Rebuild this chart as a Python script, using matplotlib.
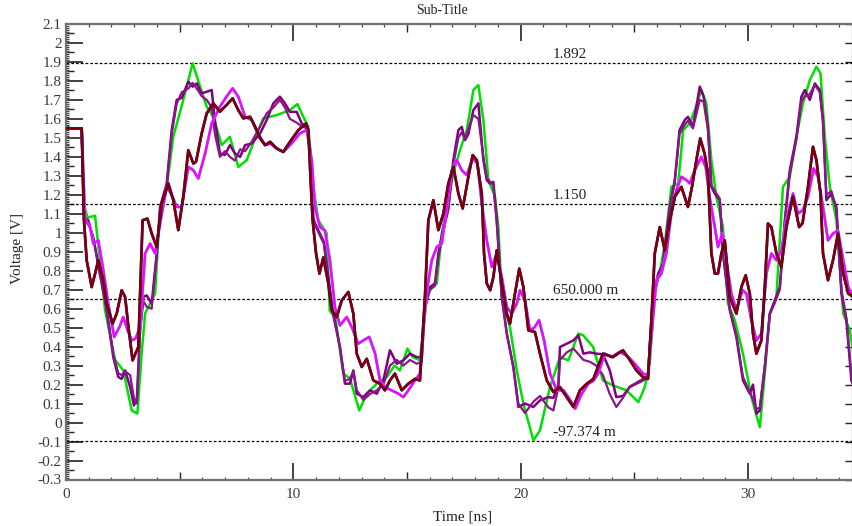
import matplotlib
matplotlib.use("Agg")
import matplotlib.pyplot as plt
from matplotlib.ticker import MultipleLocator

plt.rcParams['font.family'] = ['Liberation Serif', 'DejaVu Serif']

# ---- waveform traces (time in ns, voltage in V) ----
green_t = [0, 0.69, 0.8, 0.95, 1.28, 1.72, 2.16, 2.52, 2.89, 3.14, 3.33, 3.48, 3.92, 4.14,
           4.43, 4.72, 5.16, 5.57, 5.9, 6.19, 6.48, 6.85, 7.21, 7.58, 7.95, 8.46, 8.68, 9.27,
           9.85, 10.18, 10.44, 10.66, 10.88, 11.1, 11.47, 11.6, 11.85, 12.2, 12.49, 12.9,
           13.23, 13.74, 14.11, 14.45, 14.69, 15.02, 15.25, 15.57, 15.87, 16.09, 16.31,
           16.53, 16.82, 17.04, 17.33, 17.63, 17.92, 18.14, 18.36, 18.58, 18.87, 19.02,
           19.17, 19.53, 19.83, 20.12, 20.56, 20.85, 21.29, 21.73, 22.1, 22.54, 22.75,
           23.19, 23.62, 24.06, 24.65, 25.18, 25.46, 25.68, 25.9, 26.12, 26.35, 26.63,
           26.93, 27.15, 27.44, 27.66, 27.95, 28.17, 28.39, 28.61, 28.9, 29.12, 29.42,
           29.78, 30.15, 30.52, 30.74, 30.96, 31.25, 31.54, 31.84, 32.13, 32.42, 32.72,
           33.01, 33.19, 33.38, 33.6, 33.89, 34.19, 34.48, 34.62]
green_v = [1.55, 1.55, 1.14, 1.08, 1.09, 0.59, 0.33, 0.275, 0.064, 0.047, 0.365, 0.575,
           0.68, 1.136, 1.24, 1.506, 1.70, 1.893, 1.77, 1.664, 1.611, 1.462, 1.506, 1.347,
           1.383, 1.541, 1.603, 1.62, 1.646, 1.678, 1.611, 1.558, 1.242, 1.066, 0.996, 0.59,
           0.55, 0.258, 0.233, 0.064, 0.152, 0.213, 0.24, 0.30, 0.275, 0.39, 0.345, 0.328,
           0.662, 0.714, 0.733, 0.996, 1.19, 1.313, 1.435, 1.541, 1.752, 1.778, 1.594,
           1.277, 1.19, 1.03, 0.662, 0.503, 0.275, 0.10, -0.094, -0.041, 0.187, 0.345,
           0.328, 0.469, 0.46, 0.398, 0.222, 0.196, 0.17, 0.108, 0.187, 0.31, 0.714, 0.785,
           0.95, 1.242, 1.26, 1.541, 1.576, 1.646, 1.752, 1.682, 1.383, 1.19, 1.03, 0.627,
           0.539, 0.363, 0.134, -0.024, 0.258, 0.574, 0.662, 1.242, 1.295, 1.506, 1.682,
           1.805, 1.875, 1.84, 1.506, 1.242, 1.066, 0.574, 0.486, 0.38]

purple_a_t = [0, 0.69, 0.8, 0.98, 1.2, 1.45, 1.79, 2.08, 2.3, 2.45, 2.6, 2.82, 2.99, 3.12,
              3.26, 3.4, 3.55, 3.77, 3.99, 4.14, 4.43, 4.65, 4.87, 5.09, 5.38, 5.57, 5.75,
              5.97, 6.19, 6.41, 6.55, 6.77, 6.99, 7.21, 7.43, 7.66, 7.88, 8.17, 8.54, 8.83,
              9.12, 9.41, 9.63, 9.85, 10.15, 10.37, 10.6, 10.76, 10.88, 11.03, 11.35, 11.5,
              11.76, 12.05, 12.27, 12.49, 12.64, 12.79, 13.08, 13.37, 13.67, 13.96, 14.25,
              14.55, 14.84, 15.13, 15.43, 15.65, 15.79, 16.01, 16.23, 16.38, 16.6, 16.82,
              17.04, 17.26, 17.41, 17.55, 17.7, 17.92, 18.14, 18.36, 18.51, 18.65, 18.8,
              18.95, 19.17, 19.39, 19.68, 19.9, 20.19, 20.56, 20.85, 21.22, 21.44, 21.66,
              21.73, 22.03, 22.32, 22.54, 22.76, 23.05, 23.33, 23.62, 23.92, 24.21, 24.5,
              24.8, 25.09, 25.38, 25.6, 25.82, 26.05, 26.26, 26.56, 26.78, 26.99, 27.22,
              27.36, 27.58, 27.88, 28.05, 28.24, 28.39, 28.54, 28.76, 28.9, 29.2, 29.49,
              29.78, 30.08, 30.22, 30.37, 30.52, 30.74, 30.96, 31.18, 31.4, 31.62, 31.84,
              32.13, 32.35, 32.5, 32.72, 32.94, 33.16, 33.3, 33.45, 33.67, 33.89, 34.11,
              34.33, 34.55, 34.62]
purple_a_v = [1.55, 1.55, 1.08, 1.066, 0.97, 0.82, 0.592, 0.345, 0.24, 0.23, 0.275, 0.187,
              0.09, 0.13, 0.503, 0.662, 0.67, 0.627, 0.891, 1.136, 1.26, 1.541, 1.70, 1.71,
              1.796, 1.77, 1.787, 1.735, 1.743, 1.752, 1.594, 1.418, 1.41, 1.462, 1.418,
              1.40, 1.462, 1.47, 1.524, 1.594, 1.682, 1.717, 1.682, 1.637, 1.637, 1.576,
              1.56, 1.418, 1.066, 1.03, 0.95, 0.80, 0.574, 0.398, 0.205, 0.205, 0.275, 0.152,
              0.134, 0.17, 0.152, 0.222, 0.381, 0.31, 0.328, 0.363, 0.345, 0.345, 0.627,
              0.714, 0.733, 0.891, 1.03, 1.136, 1.383, 1.541, 1.558, 1.488, 1.52, 1.646,
              1.682, 1.383, 1.277, 1.26, 1.268, 1.066, 0.662, 0.469, 0.293, 0.082, 0.10,
              0.082, 0.117, 0.134, 0.13, 0.20, 0.398, 0.416, 0.433, 0.46, 0.363, 0.37, 0.363,
              0.36, 0.275, 0.134, 0.14, 0.187, 0.205, 0.222, 0.24, 0.662, 0.785, 0.838,
              1.136, 1.277, 1.541, 1.594, 1.611, 1.558, 1.77, 1.717, 1.558, 1.242, 1.206,
              1.172, 0.891, 0.592, 0.45, 0.222, 0.152, 0.20, 0.047, 0.064, 0.293, 0.574,
              0.644, 0.714, 1.066, 1.33, 1.506, 1.717, 1.752, 1.70, 1.787, 1.752, 1.594,
              1.172, 1.206, 1.136, 0.68, 0.539, 0.222, 0.20]

purple_b_t = [0, 0.69, 0.8, 0.98, 1.2, 1.45, 1.79, 2.08, 2.3, 2.45, 2.6, 2.82, 2.99, 3.12,
              3.26, 3.4, 3.55, 3.77, 3.99, 4.14, 4.43, 4.65, 4.87, 5.09, 5.38, 5.57, 5.75,
              5.97, 6.19, 6.41, 6.55, 6.77, 6.99, 7.21, 7.43, 7.66, 7.88, 8.17, 8.54, 8.83,
              9.12, 9.41, 9.63, 9.85, 10.15, 10.37, 10.6, 10.76, 10.88, 11.03, 11.35, 11.5,
              11.76, 12.05, 12.27, 12.49, 12.64, 12.79, 13.08, 13.37, 13.67, 13.96, 14.25,
              14.55, 14.84, 15.13, 15.43, 15.65, 15.79, 16.01, 16.23, 16.38, 16.6, 16.82,
              17.04, 17.26, 17.41, 17.55, 17.7, 17.92, 18.14, 18.36, 18.51, 18.65, 18.8,
              18.95, 19.17, 19.39, 19.68, 19.9, 20.19, 20.56, 20.85, 21.22, 21.44, 21.66,
              21.73, 22.03, 22.32, 22.54, 22.76, 23.05, 23.33, 23.62, 23.92, 24.21, 24.5,
              24.8, 25.09, 25.38, 25.6, 25.82, 26.05, 26.26, 26.56, 26.78, 26.99, 27.22,
              27.36, 27.58, 27.88, 28.05, 28.24, 28.39, 28.54, 28.76, 28.9, 29.2, 29.49,
              29.78, 30.08, 30.22, 30.37, 30.52, 30.74, 30.96, 31.18, 31.4, 31.62, 31.84,
              32.13, 32.35, 32.5, 32.72, 32.94, 33.16, 33.3, 33.45, 33.67, 33.89, 34.11,
              34.33, 34.55, 34.62]
purple_b_v = [1.55, 1.55, 1.09, 1.05, 0.98, 0.80, 0.60, 0.36, 0.26, 0.25, 0.27, 0.25, 0.13,
              0.10, 0.48, 0.64, 0.61, 0.60, 0.88, 1.12, 1.25, 1.52, 1.68, 1.74, 1.76, 1.79,
              1.76, 1.72, 1.70, 1.66, 1.52, 1.40, 1.43, 1.40, 1.38, 1.44, 1.43, 1.48, 1.56,
              1.63, 1.66, 1.70, 1.66, 1.60, 1.58, 1.56, 1.55, 1.40, 1.08, 1.02, 0.94, 0.78,
              0.56, 0.40, 0.22, 0.23, 0.27, 0.17, 0.12, 0.15, 0.17, 0.20, 0.30, 0.33, 0.30,
              0.33, 0.31, 0.32, 0.60, 0.70, 0.72, 0.87, 1.01, 1.12, 1.36, 1.50, 1.53, 1.49,
              1.55, 1.62, 1.60, 1.40, 1.29, 1.27, 1.25, 1.05, 0.66, 0.47, 0.29, 0.10, 0.05,
              0.11, 0.14, 0.08, 0.064, 0.187, 0.33, 0.37, 0.39, 0.36, 0.33, 0.32, 0.30, 0.25,
              0.15, 0.082, 0.13, 0.19, 0.21, 0.23, 0.25, 0.64, 0.76, 0.82, 1.12, 1.27, 1.52,
              1.57, 1.59, 1.55, 1.70, 1.69, 1.54, 1.25, 1.22, 1.18, 0.90, 0.60, 0.46, 0.24,
              0.16, 0.12, 0.07, 0.08, 0.30, 0.57, 0.63, 0.70, 1.05, 1.31, 1.49, 1.69, 1.72,
              1.73, 1.78, 1.74, 1.58, 1.20, 1.22, 1.12, 0.70, 0.55, 0.25, 0.22]

darkred_t = [0, 0.69, 0.79, 0.91, 1.13, 1.28, 1.42, 1.64, 1.79, 2.05, 2.23, 2.45, 2.6, 2.75,
             2.93, 3.18, 3.37, 3.58, 3.77, 3.99, 4.21, 4.5, 4.72, 4.94, 5.16, 5.38, 5.6,
             5.72, 5.97, 6.19, 6.48, 6.77, 7.06, 7.33, 7.58, 7.8, 8.1, 8.32, 8.54, 8.76,
             8.98, 9.27, 9.56, 9.85, 10.22, 10.56, 10.66, 10.76, 10.85, 11.0, 11.15, 11.32,
             11.54, 11.69, 11.91, 12.13, 12.42, 12.64, 12.79, 13.01, 13.23, 13.52, 13.81,
             14.03, 14.25, 14.47, 14.77, 15.06, 15.35, 15.57, 15.79, 15.94, 16.16, 16.38,
             16.6, 16.82, 17.04, 17.26, 17.45, 17.7, 17.89, 18.07, 18.29, 18.39, 18.51,
             18.66, 18.8, 18.95, 19.17, 19.39, 19.53, 19.75, 19.94, 20.12, 20.34, 20.63,
             20.85, 21.15, 21.44, 21.73, 22.03, 22.32, 22.61, 22.91, 23.2, 23.62, 24.06,
             24.5, 24.8, 25.09, 25.38, 25.6, 25.75, 25.9, 26.12, 26.34, 26.56, 26.78, 27.07,
             27.36, 27.55, 27.73, 27.9, 28.09, 28.24, 28.39, 28.54, 28.68, 28.83, 28.98,
             29.2, 29.49, 29.71, 29.9, 30.08, 30.22, 30.37, 30.59, 30.74, 30.88, 31.03,
             31.25, 31.47, 31.69, 31.98, 32.25, 32.4, 32.64, 32.86, 33.01, 33.19, 33.3,
             33.52, 33.74, 33.96, 34.19, 34.41, 34.62]
darkred_v = [1.55, 1.55, 1.066, 0.855, 0.714, 0.785, 0.855, 0.75, 0.627, 0.521, 0.574,
             0.697, 0.662, 0.50, 0.328, 0.398, 1.066, 1.075, 0.996, 0.925, 1.154, 1.26,
             1.172, 1.014, 1.19, 1.435, 1.365, 1.374, 1.524, 1.629, 1.682, 1.638, 1.673,
             1.708, 1.646, 1.603, 1.611, 1.558, 1.497, 1.462, 1.479, 1.444, 1.426, 1.479,
             1.541, 1.576, 1.541, 1.277, 1.066, 0.891, 0.785, 0.87, 0.733, 0.592, 0.556,
             0.644, 0.688, 0.574, 0.363, 0.293, 0.336, 0.222, 0.205, 0.17, 0.222, 0.258,
             0.17, 0.205, 0.23, 0.222, 0.662, 1.066, 1.172, 1.014, 1.101, 1.26, 1.347,
             1.207, 1.128, 1.295, 1.409, 1.383, 1.207, 0.891, 0.733, 0.697, 0.767, 0.908,
             0.733, 0.574, 0.521, 0.68, 0.811, 0.714, 0.486, 0.477, 0.363, 0.222, 0.161,
             0.187, 0.134, 0.082, 0.17, 0.205, 0.23, 0.363, 0.345, 0.381, 0.33, 0.275, 0.24,
             0.23, 0.539, 0.891, 1.03, 0.908, 1.066, 1.19, 1.242, 1.136, 1.25, 1.383, 1.497,
             1.418, 1.313, 0.891, 0.785, 0.785, 0.891, 0.96, 0.662, 0.574, 0.714, 0.776,
             0.68, 0.469, 0.363, 0.433, 0.714, 1.049, 1.03, 0.891, 0.82, 1.03, 1.19, 1.03,
             1.05, 1.242, 1.453, 1.383, 1.207, 0.891, 0.75, 0.855, 0.996, 0.785, 0.68, 0.662]

magenta_t = [0, 0.69, 0.84, 1.06, 1.2, 1.42, 1.64, 1.86, 2.12, 2.35, 2.52, 2.7, 2.89, 3.06,
             3.26, 3.48, 3.7, 3.92, 4.14, 4.43, 4.65, 4.87, 5.09, 5.38, 5.6, 5.82, 6.12,
             6.41, 6.77, 7.06, 7.33, 7.58, 7.88, 8.17, 8.46, 8.76, 9.0, 9.27, 9.56, 9.92,
             10.29, 10.59, 10.81, 10.95, 11.17, 11.39, 11.61, 11.83, 12.05, 12.35, 12.57,
             12.86, 13.08, 13.34, 13.6, 13.81, 14.03, 14.32, 14.62, 14.84, 15.06, 15.35,
             15.57, 15.75, 15.9, 16.09, 16.31, 16.53, 16.75, 16.97, 17.19, 17.41, 17.63,
             17.89, 18.1, 18.29, 18.51, 18.73, 18.95, 19.17, 19.39, 19.61, 19.83, 19.97,
             20.19, 20.41, 20.6, 20.81, 21.03, 21.29, 21.59, 21.88, 22.1, 22.4, 22.69, 22.98,
             23.2, 23.41, 23.7, 23.99, 24.36, 24.7, 25.02, 25.38, 25.6, 25.75, 25.97, 26.19,
             26.41, 26.63, 26.85, 27.07, 27.29, 27.44, 27.66, 27.95, 28.14, 28.31, 28.54,
             28.68, 28.87, 29.05, 29.27, 29.49, 29.76, 29.93, 30.15, 30.37, 30.59, 30.81,
             31.03, 31.25, 31.47, 31.69, 31.98, 32.2, 32.42, 32.64, 32.89, 33.08, 33.3,
             33.52, 33.74, 33.96, 34.19, 34.41, 34.62]
magenta_v = [1.55, 1.55, 1.066, 1.03, 0.943, 0.96, 0.803, 0.627, 0.451, 0.503, 0.556, 0.49,
             0.433, 0.442, 0.503, 0.891, 0.943, 0.891, 1.049, 1.242, 1.20, 1.136, 1.136,
             1.347, 1.33, 1.286, 1.418, 1.576, 1.664, 1.717, 1.761, 1.717, 1.611, 1.594,
             1.52, 1.462, 1.47, 1.444, 1.426, 1.47, 1.524, 1.541, 1.383, 1.136, 1.03, 1.012,
             0.855, 0.609, 0.512, 0.556, 0.503, 0.416, 0.433, 0.451, 0.363, 0.222, 0.187,
             0.17, 0.152, 0.134, 0.17, 0.222, 0.258, 0.539, 0.714, 0.855, 0.925, 0.943,
             1.136, 1.33, 1.383, 1.33, 1.304, 1.392, 1.365, 1.154, 0.96, 0.82, 0.891, 0.767,
             0.609, 0.574, 0.627, 0.697, 0.644, 0.486, 0.50, 0.539, 0.433, 0.258, 0.17, 0.17,
             0.134, 0.073, 0.152, 0.205, 0.22, 0.258, 0.363, 0.345, 0.372, 0.35, 0.31, 0.258,
             0.25, 0.45, 0.75, 0.785, 0.891, 1.101, 1.224, 1.295, 1.277, 1.26, 1.33, 1.40,
             1.347, 1.19, 1.03, 0.925, 0.996, 0.855, 0.68, 0.592, 0.697, 0.68, 0.539, 0.433,
             0.469, 0.785, 0.891, 0.855, 0.908, 1.066, 1.207, 1.101, 1.12, 1.19, 1.339,
             1.295, 1.136, 0.96, 0.996, 1.012, 0.855, 0.714, 0.662]

# cyan and blue sit almost exactly under magenta and dark red
cyan_t, cyan_v = magenta_t, magenta_v
blue_t, blue_v = darkred_t, darkred_v

# marker levels
levels = [1.892, 1.150, 0.650, -0.097374]
level_labels = ["1.892", "1.150", "650.000 m", "-97.374 m"]

W, H = 853, 526
fig = plt.figure(figsize=(W / 100, H / 100), dpi=100)
ax = fig.add_axes([66 / W, 46.5 / H, 787 / W, 455.5 / H])

ax.plot(green_t, green_v, color='#00e000', lw=1.8, zorder=3)
ax.plot(purple_a_t, purple_a_v, color='#800080', lw=1.8, zorder=4)
ax.plot(purple_b_t, purple_b_v, color='#881888', lw=1.6, zorder=4)
ax.plot(cyan_t, cyan_v, color='#00e8ff', lw=2.1, zorder=5)
ax.plot(magenta_t, magenta_v, color='#ff00ff', lw=1.8, zorder=6)
ax.plot(blue_t, blue_v, color='#0000ff', lw=1.9, zorder=7)
ax.plot(darkred_t, darkred_v, color='#800000', lw=1.9, zorder=8)

for lv, lab in zip(levels, level_labels):
    ax.axhline(lv, color='black', lw=0.9, ls=(0, (2.2, 1.6)), zorder=2)
    ax.text(21.43, lv + 0.012, lab, fontsize=11, color='#222222', va='bottom', ha='left')

ax.set_xlim(0, 34.62)
ax.set_ylim(-0.3, 2.1)

# ticks: long majors, medium halves, short minors, all pointing inward
ax.xaxis.set_major_locator(MultipleLocator(10))
ax.xaxis.set_minor_locator(MultipleLocator(1))
ax.yaxis.set_major_locator(MultipleLocator(0.1))
ax.yaxis.set_minor_locator(MultipleLocator(0.01))
ax.tick_params(which='major', direction='in', length=12, width=1.2, color='#222222',
               labelsize=11, labelcolor='#3a3a3a', top=True, right=False)
ax.tick_params(axis='x', which='major', pad=6)
ax.tick_params(axis='y', which='major', pad=3)
ax.tick_params(which='minor', direction='in', length=2.4, width=0.9, color='#444444',
               top=True, right=False)
ax.set_yticklabels([f"{v:.1f}".replace("-0.0", "0").replace(".0", "") if abs(v) > 1e-9 else "0"
                    for v in ax.get_yticks()])

for side in ('bottom', 'top'):
    sec = ax.secondary_xaxis(side)
    sec.set_xticks([5, 15, 25])
    sec.tick_params(direction='in', length=6, width=1.0, color='#222222',
                    labelbottom=False, labeltop=False)
    sec.spines[side].set_visible(False)

sec_l = ax.secondary_yaxis('left')
sec_l.set_yticks([-0.25 + 0.1 * i for i in range(24)])
sec_l.tick_params(direction='in', length=5.5, width=1.0, color='#222222', labelleft=False)
sec_l.spines['left'].set_visible(False)

sec_r = ax.secondary_yaxis('right')
sec_r.set_yticks([round(-0.3 + 0.1 * i, 2) for i in range(25)])
sec_r.tick_params(direction='in', length=6, width=1.0, color='#222222', labelright=False)
sec_r.spines['right'].set_visible(False)

for name, sp in ax.spines.items():
    sp.set_color('#707070')
    sp.set_linewidth(1.6)

fig.text(442 / W, 1 - 11 / H, "Sub-Title", ha='center', va='center', fontsize=10,
         color='#222222')
fig.text(463 / W, 1 - 517 / H, "Time [ns]", ha='center', va='center', fontsize=11,
         color='#222222')
fig.text(17 / W, 1 - 248 / H, "Voltage [V]", ha='center', va='center', fontsize=11,
         color='#222222', rotation=90)

fig.savefig("out.png", dpi=100, facecolor='white')
